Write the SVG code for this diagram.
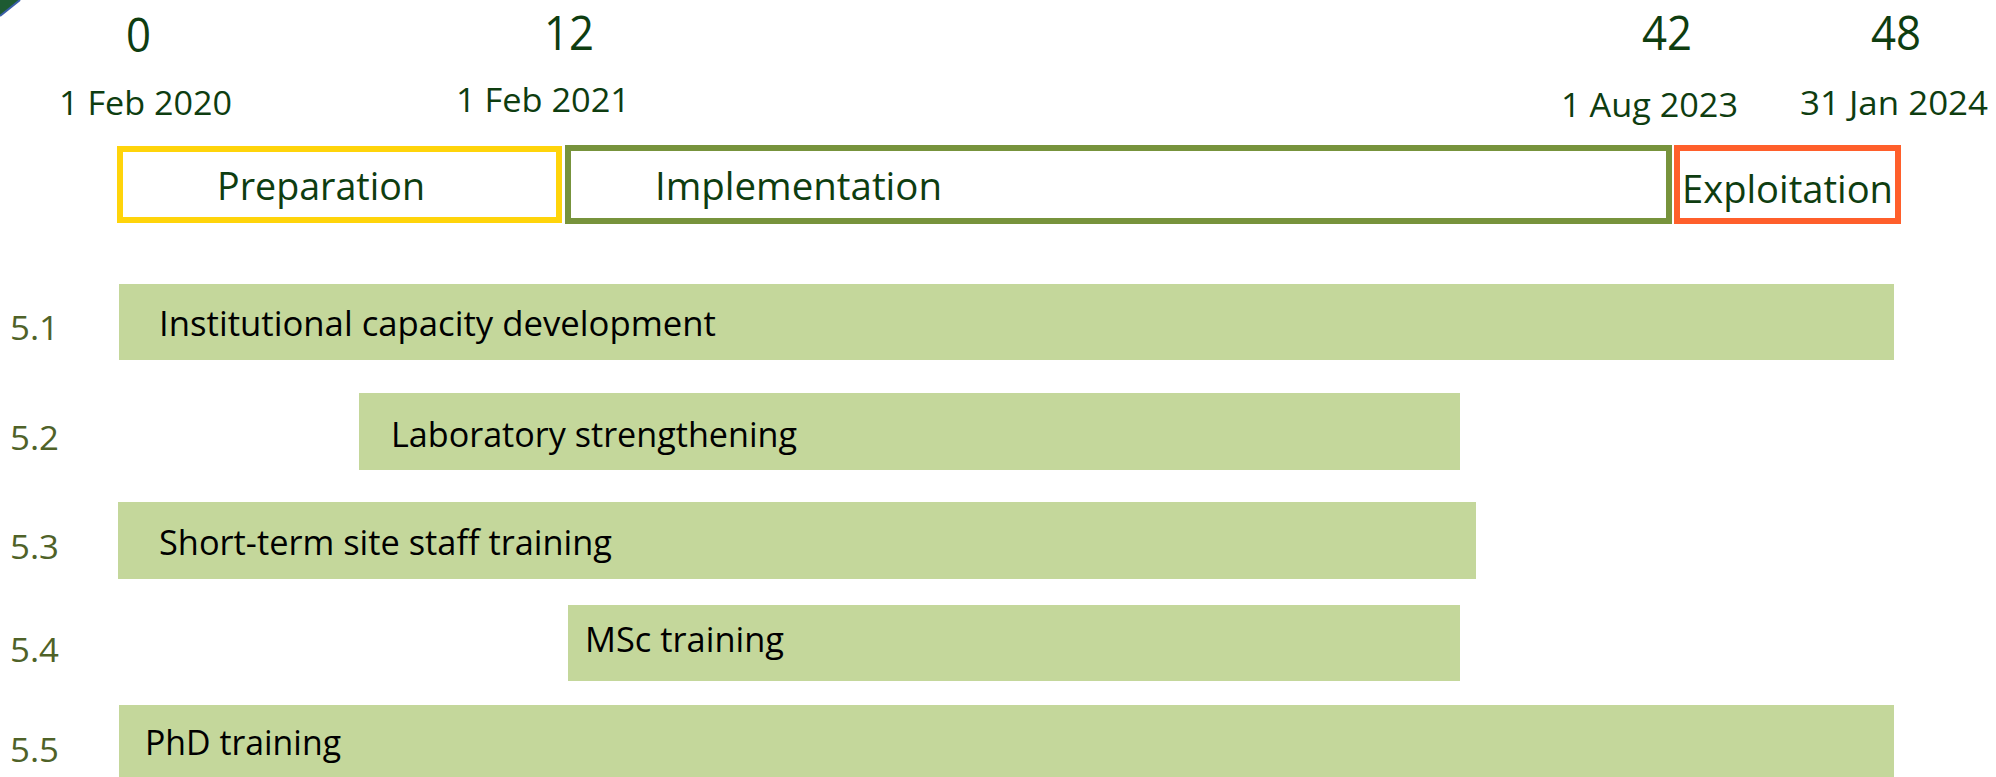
<svg xmlns="http://www.w3.org/2000/svg" width="1996" height="777" viewBox="0 0 1996 777">
  <style>
    .t { font-family: "Open Sans", "Noto Sans", "Liberation Sans", sans-serif; fill: #0E3D10; }
    .num { font-size: 47px; }
    .date { font-size: 32px; }
    .phase { font-size: 38px; }
    .bar { fill: #C4D79B; }
    .bt { font-family: "Open Sans", "Noto Sans", "Liberation Sans", sans-serif; font-size: 35px; fill: #000000; }
    .id { font-family: "Open Sans", "Noto Sans", "Liberation Sans", sans-serif; font-size: 33px; fill: #4F6228; }
  </style>
  <rect width="1996" height="777" fill="#FFFFFF"/>
  <g id="corner">
    <polygon points="0,0 20,0 0,16" fill="#1E5B32"/>
    <line x1="20" y1="0" x2="0" y2="16" stroke="#3A5FA8" stroke-width="2"/>
  </g>
  <g id="axis">
    <text class="t num" x="126" y="52" textLength="25" lengthAdjust="spacingAndGlyphs">0</text>
    <text class="t num" x="544" y="50" textLength="50" lengthAdjust="spacingAndGlyphs">12</text>
    <text class="t num" x="1642" y="50" textLength="50" lengthAdjust="spacingAndGlyphs">42</text>
    <text class="t num" x="1871" y="50" textLength="50" lengthAdjust="spacingAndGlyphs">48</text>
    <text class="t date" x="59" y="115" textLength="173" lengthAdjust="spacingAndGlyphs">1 Feb 2020</text>
    <text class="t date" x="456" y="112" textLength="174" lengthAdjust="spacingAndGlyphs">1 Feb 2021</text>
    <text class="t date" x="1561" y="117" textLength="177" lengthAdjust="spacingAndGlyphs">1 Aug 2023</text>
    <text class="t date" x="1800" y="115" textLength="188" lengthAdjust="spacingAndGlyphs">31 Jan 2024</text>
  </g>
  <g id="phase-preparation">
    <rect x="120" y="149" width="439" height="71" fill="#FFFFFF" stroke="#FFD40A" stroke-width="6"/>
    <text class="t phase" x="217" y="200" textLength="208" lengthAdjust="spacingAndGlyphs">Preparation</text>
  </g>
  <g id="phase-implementation">
    <rect x="568" y="148" width="1101" height="73" fill="#FFFFFF" stroke="#77933C" stroke-width="6"/>
    <text class="t phase" x="655" y="200" textLength="287" lengthAdjust="spacingAndGlyphs">Implementation</text>
  </g>
  <g id="phase-exploitation">
    <rect x="1677" y="148" width="221" height="73" fill="#FFFFFF" stroke="#FF5F2B" stroke-width="6"/>
    <text class="t phase" x="1682" y="203" textLength="211" lengthAdjust="spacingAndGlyphs">Exploitation</text>
  </g>
  <g id="task-5-1">
    <text class="id" x="10" y="340" textLength="49" lengthAdjust="spacingAndGlyphs">5.1</text>
    <rect class="bar" x="119" y="284" width="1775" height="76"/>
    <text class="bt" x="159" y="336" textLength="557" lengthAdjust="spacingAndGlyphs">Institutional capacity development</text>
  </g>
  <g id="task-5-2">
    <text class="id" x="10" y="450" textLength="49" lengthAdjust="spacingAndGlyphs">5.2</text>
    <rect class="bar" x="359" y="393" width="1101" height="77"/>
    <text class="bt" x="391" y="447" textLength="406" lengthAdjust="spacingAndGlyphs">Laboratory strengthening</text>
  </g>
  <g id="task-5-3">
    <text class="id" x="10" y="559" textLength="49" lengthAdjust="spacingAndGlyphs">5.3</text>
    <rect class="bar" x="118" y="502" width="1358" height="77"/>
    <text class="bt" x="159" y="555" textLength="453" lengthAdjust="spacingAndGlyphs">Short-term site staff training</text>
  </g>
  <g id="task-5-4">
    <text class="id" x="10" y="662" textLength="49" lengthAdjust="spacingAndGlyphs">5.4</text>
    <rect class="bar" x="568" y="605" width="892" height="76"/>
    <text class="bt" x="585" y="652" textLength="199" lengthAdjust="spacingAndGlyphs">MSc training</text>
  </g>
  <g id="task-5-5">
    <text class="id" x="10" y="762" textLength="49" lengthAdjust="spacingAndGlyphs">5.5</text>
    <rect class="bar" x="119" y="705" width="1775" height="72"/>
    <text class="bt" x="145" y="755" textLength="196" lengthAdjust="spacingAndGlyphs">PhD training</text>
  </g>
  <g id="connectors"></g>
</svg>
